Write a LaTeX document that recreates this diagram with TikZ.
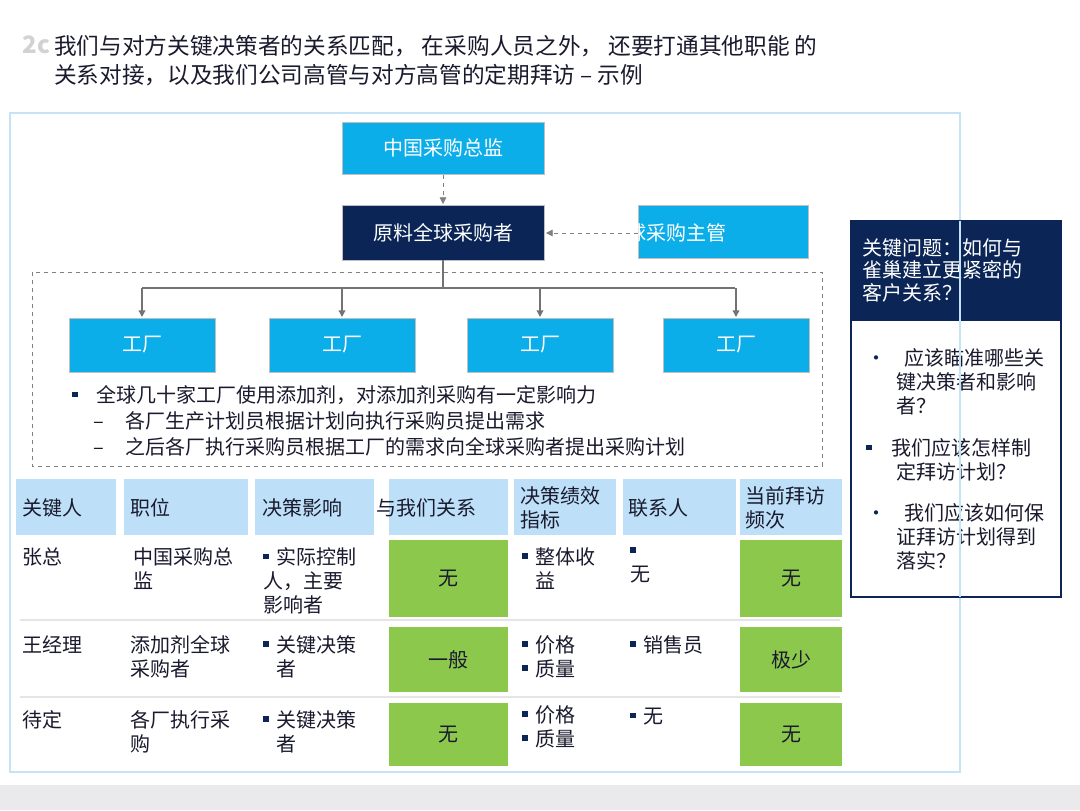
\documentclass[tikz,border=0pt]{standalone}
\usepackage{fontspec}
\setmainfont{Noto Sans CJK SC}
\usetikzlibrary{arrows.meta}
\definecolor{navy}{HTML}{0B2656}
\definecolor{cyanb}{HTML}{0CAEEA}
\definecolor{hdr}{HTML}{BDE0F8}
\definecolor{grn}{HTML}{8CC84B}
\definecolor{txt}{HTML}{1A1A2E}
\definecolor{frame}{HTML}{C5E3F6}
\newcommand{\sqb}{\textcolor{navy}{\rule[4pt]{4pt}{4pt}}}
\newcommand{\bsq}{\sqb\hspace{6pt}}
\tikzset{
  box/.style={draw=gray!50,fill=cyanb},
  hd/.style={fill=hdr},
  gr/.style={fill=grn},
  tx/.style={anchor=north west,align=left,text=txt,font=\fontsize{15}{18}\selectfont,inner sep=0pt},
  wt/.style={text=white,font=\fontsize{15}{18}\selectfont},
  dar/.style={draw=gray,dashed,-{Triangle[length=5pt,width=5pt]}},
  sar/.style={draw=gray!90!black,line width=1pt,-{Triangle[length=5pt,width=5pt]}}
}
\begin{document}
\begin{tikzpicture}[x=0.75pt,y=-0.75pt]
\useasboundingbox (0,0) rectangle (1080,810);
\fill[white] (0,0) rectangle (1080,810);
\fill[blue!8!gray!15] (0,785) rectangle (1080,810);
% title
\node[anchor=west,text=gray!35,font=\fontsize{18}{20}\selectfont\bfseries] (t0) at (18,45) {2c};
\node[anchor=north west,align=left,text=txt,font=\fontsize{17}{22}\selectfont,inner sep=0pt] (t1) at (54,35) {我们与对方关键决策者的关系匹配， 在采购人员之外， 还要打通其他职能 的\\ 关系对接，以及我们公司高管与对方高管的定期拜访 – 示例};
% frame
\draw[frame,line width=1.5pt] (10,113) rectangle (960,772);
% org chart
\path[box] (342,122) rectangle (544,174);
\node[wt] (cn) at (443,148) {中国采购总监};
\path[draw=gray!50,fill=navy] (342,205) rectangle (544,260);
\node[wt] (gb) at (443,233) {原料全球采购者};
\path[box] (638,205) rectangle (808,258);
\node[wt,anchor=west,inner sep=0pt] (sv) at (626,233) {球采购主管};
\coordinate (svl) at (638,233);
\coordinate (gbr) at (546,233);
\draw[dar] (443,175) -- (443,204);
\draw[dar] (svl) -- (gbr);
\draw[gray,dashed] (32,272) rectangle (822,466);
\draw[gray!90!black,line width=1pt] (443,260) -- (443,288) (142,288) -- (735,288);
\foreach \x/\n in {142/f1,342/f2,540/f3,736/f4}{
  \path[box] (\x-73,318) rectangle (\x+73,372);
  \node[wt] (\n) at (\x,345) {工厂};
  \draw[sar] (\x,288) -- (\x,317);
}
\node[tx] (b1) at (72,385) {\sqb\hspace{14pt}全球几十家工厂使用添加剂，对添加剂采购有一定影响力};
\node[tx] (b2) at (93,411) {–\hspace{16pt}各厂生产计划员根据计划向执行采购员提出需求};
\node[tx] (b3) at (93,437) {–\hspace{16pt}之后各厂执行采购员根据工厂的需求向全球采购者提出采购计划};
% table header
\foreach \a/\b in {16/116,124/248,255/374,389/508,514/616,623/736,740/842}{
  \path[hd] (\a,479) rectangle (\b,535);
}
\node[tx,anchor=west] (c1) at (22,508) {关键人};
\node[tx,anchor=west] (c2) at (130,508) {职位};
\node[tx,anchor=west] (c3) at (262,508) {决策影响};
\node[tx,anchor=west] (c4) at (376,508) {与我们关系};
\node[tx,anchor=west] (c5) at (520,508) {决策绩效\\指标};
\node[tx,anchor=west] (c6) at (628,508) {联系人};
\node[tx,anchor=west] (c7) at (745,508) {当前拜访\\频次};
% rows
\draw[gray!20,line width=1pt] (20,620) -- (840,620) (20,697) -- (840,697);
\foreach \ya/\yb/\ta/\tb/\n in {540/617/无/无/r1,627/692/一般/极少/r2,703/766/无/无/r3}{
  \path[gr] (389,\ya) rectangle (508,\yb);
  \path[gr] (740,\ya) rectangle (842,\yb);
  \node[text=txt,font=\fontsize{15}{18}\selectfont] (\n a) at (448.5,{(\ya+\yb)/2}) {\ta};
  \node[text=txt,font=\fontsize{15}{18}\selectfont] (\n b) at (791,{(\ya+\yb)/2}) {\tb};
}
\node[tx] (z1) at (22,547) {张总};
\node[tx] (z2) at (133,547) {中国采购总\\监};
\node[tx] (z3) at (263,547) {\bsq 实际控制\\人，主要\\影响者};
\node[tx] (z5) at (522,547) {\bsq 整体收\\\hspace{10pt}益};
\node[tx] (z6) at (630,547) {\sqb\\无};
\node[tx] (w1) at (22,635) {王经理};
\node[tx] (w2) at (130,635) {添加剂全球\\采购者};
\node[tx] (w3) at (263,635) {\bsq 关键决策\\\hspace{10pt}者};
\node[tx] (w5) at (522,635) {\bsq 价格\\\bsq 质量};
\node[tx] (w6) at (630,635) {\bsq 销售员};
\node[tx] (d1) at (22,710) {待定};
\node[tx] (d2) at (130,710) {各厂执行采\\购};
\node[tx] (d3) at (263,710) {\bsq 关键决策\\\hspace{10pt}者};
\node[tx] (d5) at (522,705) {\bsq 价格\\\bsq 质量};
\node[tx] (d6) at (630,708) {\bsq 无};
% right panel
\draw[navy,line width=1.5pt,fill=white] (851,221) rectangle (1061,597);
\fill[navy] (851,221) rectangle (1061,321);
\node[anchor=north west,align=left,text=white,font=\fontsize{15}{17}\selectfont,inner sep=0pt] (kq) at (862,238) {关键问题：如何与\\雀巢建立更紧密的\\客户关系？};
\node[tx] (q1) at (866,348) {{\color{navy}·}\hspace{14pt}应该瞄准哪些关\\\hspace{23pt}键决策者和影响\\\hspace{23pt}者？};
\node[tx] (q2) at (866,438) {\sqb\hspace{15pt}我们应该怎样制\\\hspace{23pt}定拜访计划？};
\node[tx] (q3) at (866,503) {{\color{navy}·}\hspace{14pt}我们应该如何保\\\hspace{23pt}证拜访计划得到\\\hspace{23pt}落实？};
\draw[frame,line width=1.5pt] (960,221) -- (960,597);
\end{tikzpicture}
\end{document}
